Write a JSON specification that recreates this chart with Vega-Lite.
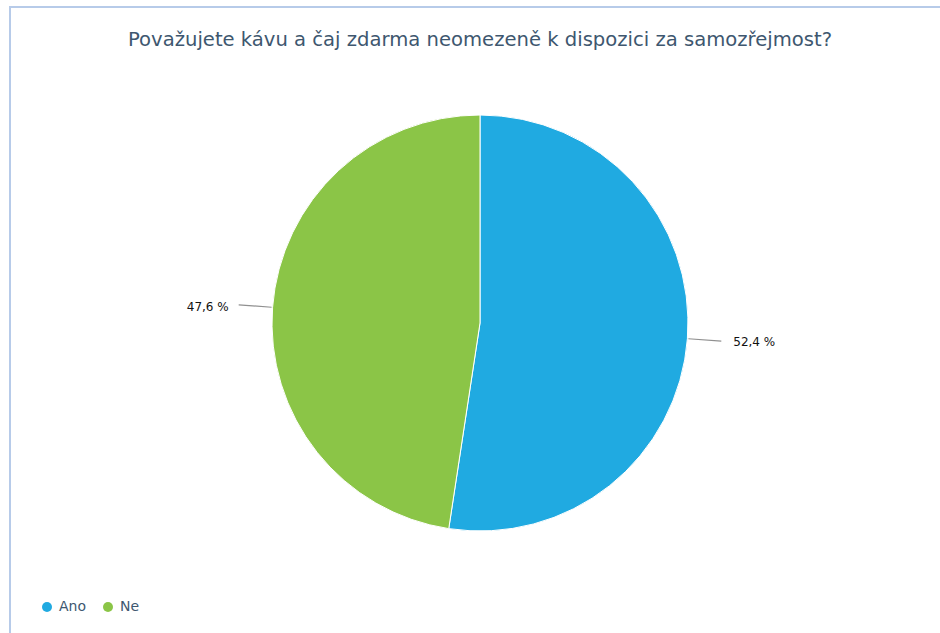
{
  "$schema": "https://vega.github.io/schema/vega-lite/v6.json",
  "width": 940,
  "height": 632,
  "padding": {"left": 10, "top": 7, "right": 0, "bottom": 0},
  "background": "white",
  "view": {"stroke": "#b7cbe9", "strokeWidth": 2},
  "title": {
    "text": "Považujete kávu a čaj zdarma neomezeně k dispozici za samozřejmost?",
    "anchor": "middle",
    "frame": "group",
    "offset": -53,
    "baseline": "middle",
    "fontSize": 19.6,
    "fontWeight": "normal",
    "font": "DejaVu Sans",
    "color": "#3e576f"
  },
  "data": {
    "values": [
      {"answer": "Ano", "share": 52.4, "label": "52,4 %"},
      {"answer": "Ne", "share": 47.6, "label": "47,6 %"}
    ]
  },
  "transform": [
    {"window": [{"op": "sum", "field": "share", "as": "cum"}]},
    {"calculate": "datum.cum - datum.share / 2", "as": "mid"},
    {"calculate": "datum.mid - 0.04", "as": "t1"},
    {"calculate": "datum.mid + 0.04", "as": "t2"}
  ],
  "layer": [
    {
      "mark": {"type": "arc", "outerRadius": 208, "stroke": "white", "strokeWidth": 1},
      "encoding": {
        "theta": {"field": "share", "type": "quantitative", "stack": true, "scale": {"domain": [0, 100]}},
        "color": {
          "field": "answer",
          "type": "nominal",
          "scale": {"domain": ["Ano", "Ne"], "range": ["#20aae1", "#8bc547"]},
          "legend": {
            "orient": "none",
            "legendX": 30,
            "legendY": 593,
            "direction": "horizontal",
            "title": null,
            "symbolType": "circle",
            "symbolSize": 100,
            "symbolStrokeWidth": 0,
            "labelFontSize": 14,
            "labelFont": "DejaVu Sans",
            "labelColor": "#3e576f",
            "columnPadding": 14,
            "labelOffset": 5
          }
        }
      }
    },
    {
      "mark": {"type": "arc", "innerRadius": 209, "outerRadius": 242, "color": "#909090"},
      "encoding": {
        "theta": {"field": "t1", "type": "quantitative", "scale": {"domain": [0, 100]}},
        "theta2": {"field": "t2"}
      }
    },
    {
      "transform": [{"filter": "datum.answer == 'Ano'"}],
      "mark": {"type": "text", "radius": 254, "align": "left", "baseline": "middle", "fontSize": 12, "font": "DejaVu Sans", "color": "#111111"},
      "encoding": {
        "theta": {"field": "mid", "type": "quantitative", "scale": {"domain": [0, 100]}},
        "text": {"field": "label"}
      }
    },
    {
      "transform": [{"filter": "datum.answer == 'Ne'"}],
      "mark": {"type": "text", "radius": 252, "align": "right", "baseline": "middle", "dy": 3, "fontSize": 12, "font": "DejaVu Sans", "color": "#111111"},
      "encoding": {
        "theta": {"field": "mid", "type": "quantitative", "scale": {"domain": [0, 100]}},
        "text": {"field": "label"}
      }
    }
  ],
  "config": {
    "view": {"stroke": "#b7cbe9", "strokeWidth": 2}
  }
}
